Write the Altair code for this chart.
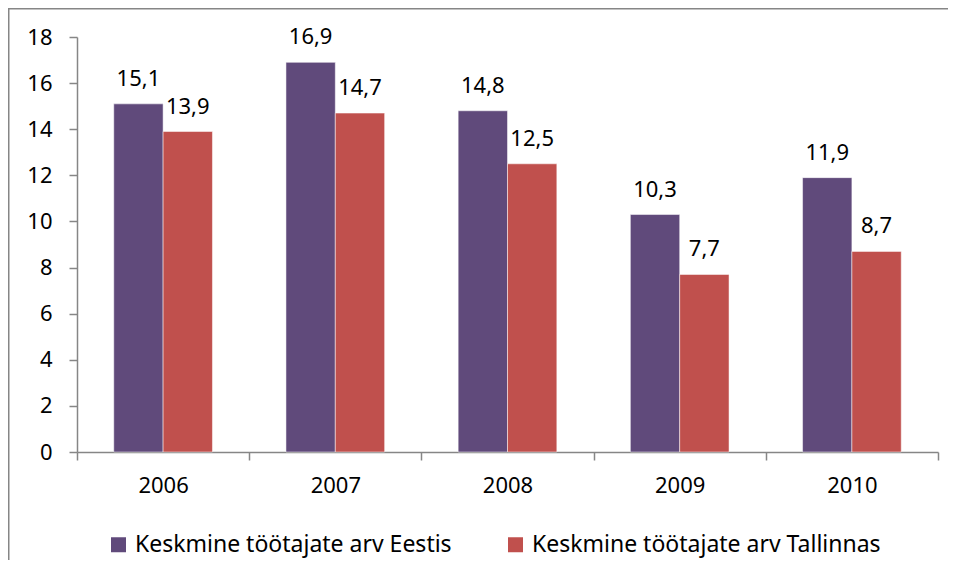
import altair as alt
import pandas as pd

years = ["2006", "2007", "2008", "2009", "2010"]
eestis = [15.1, 16.9, 14.8, 10.3, 11.9]
tallinnas = [13.9, 14.7, 12.5, 7.7, 8.7]
series = ["Keskmine töötajate arv Eestis", "Keskmine töötajate arv Tallinnas"]
colors = ["#604A7B", "#C0504D"]

rows = []
for i, y in enumerate(years):
    for s, vals in zip(series, [eestis, tallinnas]):
        v = vals[i]
        rows.append({"year": y, "series": s, "value": v, "label": f"{v:.1f}".replace(".", ",")})
df = pd.DataFrame(rows)

FONT = "Noto Sans"
FS = 22
W, H = 861, 415

x = alt.X("year:N", title=None, sort=years,
          scale=alt.Scale(paddingInner=0, paddingOuter=0),
          axis=alt.Axis(labelAngle=0, tickBand="extent", grid=False, domainColor="#868686",
                        tickColor="#868686", domainWidth=1.5, tickWidth=1.5, tickSize=8,
                        labelFontSize=FS, labelFont=FONT, labelColor="#000000",
                        labelPadding=15))
xo = alt.XOffset("series:N", sort=series, scale=alt.Scale(paddingInner=0, paddingOuter=0.745))
y = alt.Y("value:Q", title=None,
          scale=alt.Scale(domain=[0, 18], nice=False),
          axis=alt.Axis(values=list(range(0, 19, 2)), grid=False, domainColor="#868686",
                        tickColor="#868686", domainWidth=1.5, tickWidth=1.5, tickSize=8,
                        labelFontSize=FS, labelFont=FONT, labelColor="#000000",
                        labelPadding=17))

bars = alt.Chart(df).mark_bar(stroke="white", strokeWidth=0.5).encode(
    x=x, xOffset=xo, y=y,
    color=alt.Color("series:N", sort=series,
                    scale=alt.Scale(domain=series, range=colors),
                    legend=alt.Legend(title=None, orient="none", direction="horizontal",
                                      legendX=30, legendY=496, padding=0, symbolType="square",
                                      symbolSize=225, symbolStrokeWidth=0,
                                      labelFontSize=23, labelFont=FONT, labelColor="#000000",
                                      labelLimit=0, columnPadding=52, labelOffset=5)),
)

text = alt.Chart(df).mark_text(fontSize=FS, font=FONT, baseline="alphabetic", dy=-18,
                               color="#000000").encode(
    x=x, xOffset=xo, y=y, text="label:N"
)

frame = pd.DataFrame({"a": [0]})
left_line = alt.Chart(frame).mark_rule(color="#868686", strokeWidth=1.5, clip=False).encode(
    x=alt.value(-68.25), y=alt.value(-29), y2=alt.value(560))
top_line = alt.Chart(frame).mark_rule(color="#868686", strokeWidth=1.5, clip=False).encode(
    x=alt.value(-69), x2=alt.value(900), y=alt.value(-28.25))

chart = alt.layer(bars, text, left_line, top_line).properties(
    width=W, height=H,
    background="white",
    autosize=alt.AutoSizeParams(type="none"),
    padding={"left": 69, "top": 29, "right": 10, "bottom": 108},
).configure_view(stroke="transparent", strokeWidth=0)

chart.save("out.html", embed_options={"renderer": "svg", "actions": False})
